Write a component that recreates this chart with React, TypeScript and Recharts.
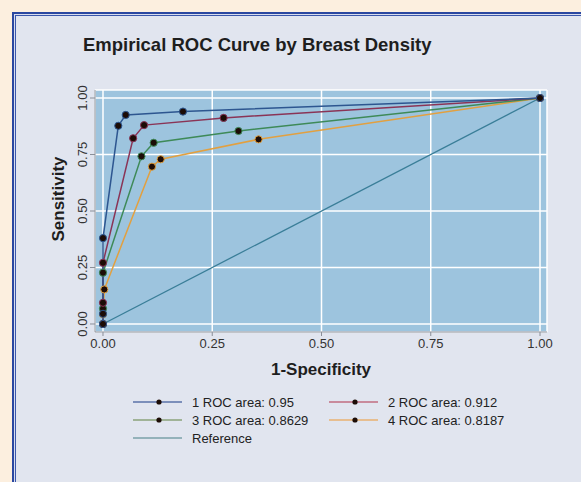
import React from 'react';
import { LineChart, Line, XAxis, YAxis, CartesianGrid } from 'recharts';

// ROC points per density group: [1-specificity, sensitivity]
const density1 = [[0, 0], [0, 0.045], [0, 0.38], [0.035, 0.877], [0.052, 0.925], [0.183, 0.94], [1, 1]];
const density2 = [[0, 0], [0, 0.094], [0, 0.271], [0.069, 0.822], [0.094, 0.88], [0.276, 0.912], [1, 1]];
const density3 = [[0, 0], [0, 0.068], [0, 0.227], [0.088, 0.742], [0.116, 0.802], [0.31, 0.854], [1, 1]];
const density4 = [[0, 0], [0, 0.043], [0.003, 0.153], [0.112, 0.696], [0.132, 0.729], [0.356, 0.817], [1, 1]];
const referenceLine = [[0, 0], [1, 1]];

const seriesNames = ['1 ROC area: 0.95', '2 ROC area: 0.912', '3 ROC area: 0.8629', '4 ROC area: 0.8187', 'Reference'];
const ticks = [0, 0.25, 0.5, 0.75, 1];

const toRows = (pts: number[][]) => pts.map(([x, y]) => ({ x, y }));

const COLORS = ['#2d5690', '#8a3456', '#3e8a58', '#e2a040', '#3a7e98'];
const LEGEND_COLORS = ['#5a72a8', '#c06c80', '#8aa27a', '#e8b070', '#7aa0a8'];
const FONT = '"Liberation Sans", Arial, Helvetica, sans-serif';

const Marker = (color: string) => (props: any) => {
  const { cx, cy, index } = props;
  if (cx == null || cy == null) return <g key={index} />;
  return <circle key={index} cx={cx} cy={cy} r={3.6} fill="#1c0c06" stroke={color} strokeWidth={1} />;
};

const YTick = (props: any) => {
  const { x, y, payload } = props;
  return (
    <text transform={`translate(${x - 1},${y}) rotate(-90)`} textAnchor="middle" fontSize={13} fill="#333" fontFamily={FONT}>
      {payload.value.toFixed(2)}
    </text>
  );
};

const XTick = (props: any) => {
  const { x, y, payload } = props;
  return (
    <text x={x} y={y + 10} textAnchor="middle" fontSize={13} fill="#333" fontFamily={FONT}>
      {payload.value.toFixed(2)}
    </text>
  );
};

const LegendItem = ({ i, left, top }: { i: number; left: number; top: number }) => (
  <div style={{ position: 'absolute', left, top, display: 'flex', alignItems: 'center', height: 16 }}>
    <svg width={50} height={16} style={{ display: 'block' }}>
      <line x1={0} y1={8} x2={49} y2={8} stroke={LEGEND_COLORS[i]} strokeWidth={1.5} />
      {i < 4 && <circle cx={26} cy={8} r={2.6} fill="#1c0c06" />}
    </svg>
    <span style={{ marginLeft: 9, fontSize: 13, color: '#222', fontFamily: FONT, whiteSpace: 'nowrap' }}>{seriesNames[i]}</span>
  </div>
);

export default function App() {
  const groups = [density1, density2, density3, density4];
  return (
    <div style={{ position: 'absolute', left: 0, top: 0, width: 581, height: 482, background: '#fcefdf', overflow: 'hidden', fontFamily: FONT }}>
      <div
        style={{
          position: 'absolute', left: 12, top: 12, width: 620, height: 520,
          background: '#e1e5ef', border: '2px solid #2a47a0',
          boxShadow: 'inset 0 0 0 1px #d8ddef, inset 0 0 0 2px #3a56aa',
        }}
      />
      <div style={{ position: 'absolute', left: 83, top: 34, fontSize: 18.5, fontWeight: 'bold', color: '#1e1e1e', whiteSpace: 'nowrap' }}>
        Empirical ROC Curve by Breast Density
      </div>
      <div style={{ position: 'absolute', left: 0, top: 0 }}>
        <LineChart width={581} height={482} margin={{ top: 90, right: 34, bottom: 115, left: 0 }}>
          <CartesianGrid fill="#9dc4de" stroke="#ffffff" strokeWidth={1.5} ticks={ticks as any} />
          <XAxis
            type="number" dataKey="x" domain={[-0.0183, 1.016]} allowDataOverflow ticks={ticks}
            height={35} stroke="#8a8f98" tickSize={4} tick={<XTick />}
            label={{ value: '1-Specificity', position: 'insideBottom', offset: -8, fontSize: 17, fontWeight: 'bold', fill: '#1e1e1e', fontFamily: FONT }}
          />
          <YAxis
            type="number" dataKey="y" domain={[-0.0354, 1.0354]} allowDataOverflow ticks={ticks}
            width={95} stroke="#8a8f98" tickSize={5} tickMargin={2} tick={<YTick />}
            label={{ value: 'Sensitivity', angle: -90, position: 'insideLeft', offset: 58, dy: -12, fontSize: 17, fontWeight: 'bold', fill: '#1e1e1e', fontFamily: FONT, style: { textAnchor: 'middle' } }}
          />
          <Line
            data={toRows(referenceLine)} dataKey="y" name={seriesNames[4]} stroke={COLORS[4]} strokeWidth={1.3}
            dot={false} isAnimationActive={false}
          />
          {groups.map((g, i) => i).reverse().map((i) => (
            <Line
              key={i} data={toRows(groups[i])} dataKey="y" name={seriesNames[i]} stroke={COLORS[i]} strokeWidth={1.5}
              dot={Marker(COLORS[i])} activeDot={false} isAnimationActive={false}
            />
          ))}
        </LineChart>
      </div>
      <LegendItem i={0} left={133} top={394} />
      <LegendItem i={1} left={329} top={394} />
      <LegendItem i={2} left={133} top={412} />
      <LegendItem i={3} left={329} top={412} />
      <LegendItem i={4} left={133} top={430} />
    </div>
  );
}
